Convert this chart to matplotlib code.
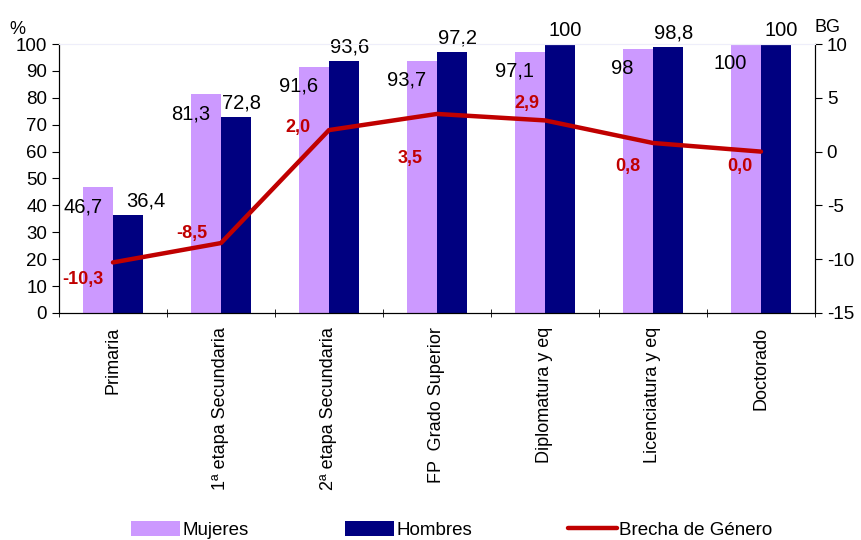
import matplotlib.pyplot as plt
import numpy as np

plt.rcParams['font.family'] = ['Liberation Sans', 'DejaVu Sans']
plt.rcParams['axes.unicode_minus'] = False

categories = ["Primaria", "1ª etapa Secundaria", "2ª etapa Secundaria", "FP  Grado Superior",
              "Diplomatura y eq", "Licenciatura y eq", "Doctorado"]
mujeres = [46.7, 81.3, 91.6, 93.7, 97.1, 98, 100]
hombres = [36.4, 72.8, 93.6, 97.2, 100, 98.8, 100]
brecha = [-10.3, -8.5, 2.0, 3.5, 2.9, 0.8, 0.0]

# label offsets in points (excel put them all over the place)
brecha_off = [(-22, -12), (-21, 7), (-22, 2), (-19, -32), (-13, 12), (-18, -17), (-15, -11)]

def fmt(v):
    s = f"{v:.1f}".replace(".", ",")
    if s.endswith(",0") and v in mujeres + hombres:
        s = s[:-2]
    return s

fig = plt.figure(figsize=(8.61, 5.4), dpi=100)
ax = fig.add_axes([0.0685, 0.4204, 0.878, 0.4981])
x = np.arange(len(categories))
w = 0.28

ax.bar(x - w / 2, mujeres, w, color="#CC99FF", label="Mujeres", zorder=2)
ax.bar(x + w / 2, hombres, w, color="#000080", label="Hombres", zorder=2)

for i in range(len(categories)):
    ax.annotate(fmt(mujeres[i]), (x[i] - w / 2, mujeres[i]), xytext=(-11, -14),
                textcoords="offset points", ha="center", va="center", fontsize=14.5)
    dx = 13 if i == 0 else 4
    ax.annotate(fmt(hombres[i]), (x[i] + w / 2, hombres[i]), xytext=(dx, 10),
                textcoords="offset points", ha="center", va="center", fontsize=14.5)

ax.set_xlim(-0.5, len(categories) - 0.5)
ax.set_ylim(0, 100)
ax.set_yticks(range(0, 101, 10))
ax.set_xticks(x)
ax.set_xticklabels(categories, rotation=90, fontsize=13)
ax.set_xticks(np.arange(-0.5, len(categories), 1), minor=True)
ax.tick_params(axis="x", which="major", length=0, pad=10)
ax.tick_params(axis="x", which="minor", length=6, direction="inout")
ax.tick_params(axis="y", labelsize=13.5, length=5, direction="out")
ax.spines["top"].set_color("#EEEEFA")
ax.text(-0.055, 1.055, "%", transform=ax.transAxes, fontsize=13, ha="center", va="center")

ax2 = ax.twinx()
ax2.plot(x, brecha, color="#C00000", linewidth=3.2, label="Brecha de Género",
         solid_capstyle="round", zorder=3)
for i in range(len(categories)):
    ax2.annotate(fmt(brecha[i]), (x[i], brecha[i]), xytext=brecha_off[i],
                 textcoords="offset points", ha="center", va="center",
                 fontsize=13, fontweight="bold", color="#C00000")
ax2.set_ylim(-15, 10)
ax2.set_yticks(range(-15, 11, 5))
ax2.tick_params(axis="y", labelsize=13.5, length=5, direction="out")
ax2.spines["top"].set_color("#EEEEFA")
ax2.text(1.0, 1.06, "BG", transform=ax2.transAxes, fontsize=13, ha="left", va="center")

h1, l1 = ax.get_legend_handles_labels()
h2, l2 = ax2.get_legend_handles_labels()
fig.legend(h1 + h2, l1 + l2, loc="center", bbox_to_anchor=(0.525, 0.018), ncol=3,
           frameon=False, fontsize=13.5,
           handlelength=2.6, handleheight=0.8, columnspacing=5.1, handletextpad=0.15)

fig.savefig("out.png", dpi=100)
